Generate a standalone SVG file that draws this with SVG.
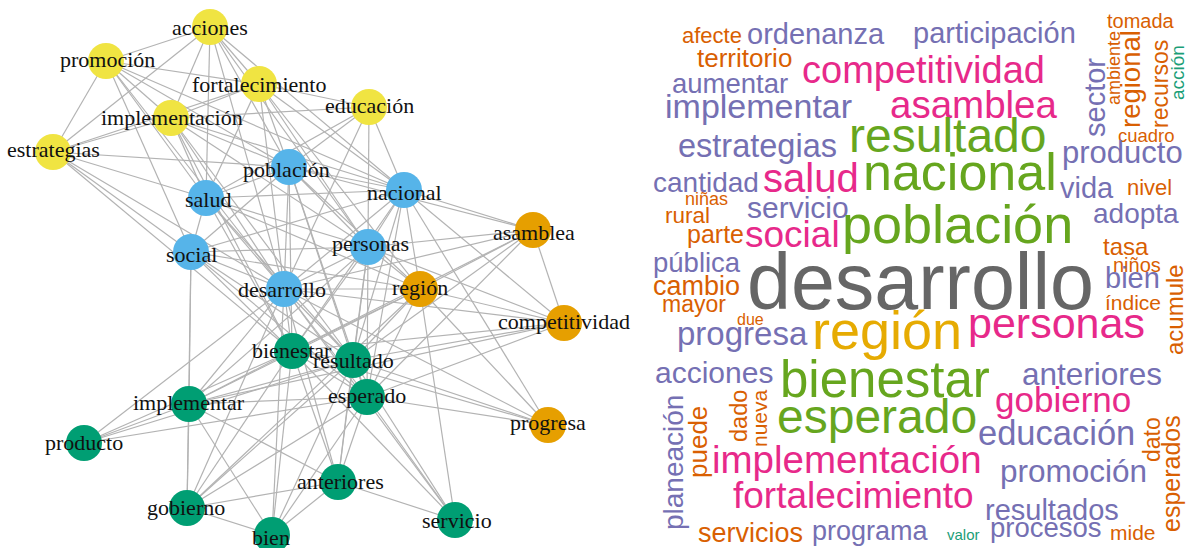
<svg xmlns="http://www.w3.org/2000/svg" width="1189" height="548" viewBox="0 0 1189 548">
<style>
.e{stroke:#b3b3b3;stroke-width:1.2;fill:none}
.n{stroke:none}
.Y{fill:#F0E442}.B{fill:#56B4E9}.G{fill:#009E73}.O{fill:#E69F00}
.l{font-family:"Liberation Serif","Times New Roman",serif;font-size:22px;fill:#111}
.w{font-family:"Liberation Sans",Arial,sans-serif}
.o{fill:#D95F02}.p{fill:#7570B3}.k{fill:#E7298A}.g{fill:#66A61E}.y{fill:#E6AB02}.t{fill:#1B9E77}.d{fill:#666666}
</style>
<rect width="1189" height="548" fill="#fff"/>
<g id="connectors">
<line class="e" x1="210" y1="27" x2="106" y2="61"/>
<line class="e" x1="210" y1="27" x2="259" y2="84"/>
<line class="e" x1="210" y1="27" x2="171" y2="118"/>
<line class="e" x1="210" y1="27" x2="53" y2="152"/>
<line class="e" x1="210" y1="27" x2="206" y2="198"/>
<line class="e" x1="210" y1="27" x2="289" y2="167"/>
<line class="e" x1="210" y1="27" x2="404" y2="190"/>
<line class="e" x1="210" y1="27" x2="284" y2="289"/>
<line class="e" x1="210" y1="27" x2="368" y2="247"/>
<line class="e" x1="106" y1="61" x2="259" y2="84"/>
<line class="e" x1="106" y1="61" x2="171" y2="118"/>
<line class="e" x1="106" y1="61" x2="53" y2="152"/>
<line class="e" x1="106" y1="61" x2="206" y2="198"/>
<line class="e" x1="106" y1="61" x2="289" y2="167"/>
<line class="e" x1="106" y1="61" x2="284" y2="289"/>
<line class="e" x1="106" y1="61" x2="191" y2="252"/>
<line class="e" x1="106" y1="61" x2="404" y2="190"/>
<line class="e" x1="259" y1="84" x2="171" y2="118"/>
<line class="e" x1="259" y1="84" x2="53" y2="152"/>
<line class="e" x1="259" y1="84" x2="369" y2="107"/>
<line class="e" x1="259" y1="84" x2="206" y2="198"/>
<line class="e" x1="259" y1="84" x2="289" y2="167"/>
<line class="e" x1="259" y1="84" x2="404" y2="190"/>
<line class="e" x1="259" y1="84" x2="284" y2="289"/>
<line class="e" x1="259" y1="84" x2="368" y2="247"/>
<line class="e" x1="259" y1="84" x2="420" y2="289"/>
<line class="e" x1="171" y1="118" x2="53" y2="152"/>
<line class="e" x1="171" y1="118" x2="369" y2="107"/>
<line class="e" x1="171" y1="118" x2="206" y2="198"/>
<line class="e" x1="171" y1="118" x2="289" y2="167"/>
<line class="e" x1="171" y1="118" x2="404" y2="190"/>
<line class="e" x1="171" y1="118" x2="284" y2="289"/>
<line class="e" x1="171" y1="118" x2="368" y2="247"/>
<line class="e" x1="171" y1="118" x2="292" y2="351"/>
<line class="e" x1="171" y1="118" x2="353" y2="360"/>
<line class="e" x1="369" y1="107" x2="289" y2="167"/>
<line class="e" x1="369" y1="107" x2="404" y2="190"/>
<line class="e" x1="369" y1="107" x2="206" y2="198"/>
<line class="e" x1="369" y1="107" x2="368" y2="247"/>
<line class="e" x1="369" y1="107" x2="284" y2="289"/>
<line class="e" x1="53" y1="152" x2="289" y2="167"/>
<line class="e" x1="53" y1="152" x2="191" y2="252"/>
<line class="e" x1="53" y1="152" x2="284" y2="289"/>
<line class="e" x1="53" y1="152" x2="292" y2="351"/>
<line class="e" x1="53" y1="152" x2="206" y2="198"/>
<line class="e" x1="289" y1="167" x2="206" y2="198"/>
<line class="e" x1="289" y1="167" x2="404" y2="190"/>
<line class="e" x1="289" y1="167" x2="191" y2="252"/>
<line class="e" x1="289" y1="167" x2="368" y2="247"/>
<line class="e" x1="289" y1="167" x2="284" y2="289"/>
<line class="e" x1="289" y1="167" x2="292" y2="351"/>
<line class="e" x1="289" y1="167" x2="353" y2="360"/>
<line class="e" x1="289" y1="167" x2="367" y2="397"/>
<line class="e" x1="289" y1="167" x2="533" y2="230"/>
<line class="e" x1="289" y1="167" x2="420" y2="289"/>
<line class="e" x1="206" y1="198" x2="191" y2="252"/>
<line class="e" x1="206" y1="198" x2="404" y2="190"/>
<line class="e" x1="206" y1="198" x2="284" y2="289"/>
<line class="e" x1="206" y1="198" x2="368" y2="247"/>
<line class="e" x1="206" y1="198" x2="292" y2="351"/>
<line class="e" x1="206" y1="198" x2="353" y2="360"/>
<line class="e" x1="206" y1="198" x2="420" y2="289"/>
<line class="e" x1="404" y1="190" x2="368" y2="247"/>
<line class="e" x1="404" y1="190" x2="533" y2="230"/>
<line class="e" x1="404" y1="190" x2="420" y2="289"/>
<line class="e" x1="404" y1="190" x2="284" y2="289"/>
<line class="e" x1="404" y1="190" x2="564" y2="323"/>
<line class="e" x1="404" y1="190" x2="292" y2="351"/>
<line class="e" x1="404" y1="190" x2="353" y2="360"/>
<line class="e" x1="404" y1="190" x2="367" y2="397"/>
<line class="e" x1="404" y1="190" x2="191" y2="252"/>
<line class="e" x1="404" y1="190" x2="548" y2="425"/>
<line class="e" x1="191" y1="252" x2="284" y2="289"/>
<line class="e" x1="191" y1="252" x2="368" y2="247"/>
<line class="e" x1="191" y1="252" x2="292" y2="351"/>
<line class="e" x1="191" y1="252" x2="353" y2="360"/>
<line class="e" x1="191" y1="252" x2="189" y2="404"/>
<line class="e" x1="191" y1="252" x2="367" y2="397"/>
<line class="e" x1="191" y1="252" x2="187" y2="508"/>
<line class="e" x1="191" y1="252" x2="420" y2="289"/>
<line class="e" x1="368" y1="247" x2="284" y2="289"/>
<line class="e" x1="368" y1="247" x2="420" y2="289"/>
<line class="e" x1="368" y1="247" x2="533" y2="230"/>
<line class="e" x1="368" y1="247" x2="292" y2="351"/>
<line class="e" x1="368" y1="247" x2="353" y2="360"/>
<line class="e" x1="368" y1="247" x2="367" y2="397"/>
<line class="e" x1="368" y1="247" x2="564" y2="323"/>
<line class="e" x1="368" y1="247" x2="189" y2="404"/>
<line class="e" x1="368" y1="247" x2="338" y2="482"/>
<line class="e" x1="284" y1="289" x2="420" y2="289"/>
<line class="e" x1="284" y1="289" x2="292" y2="351"/>
<line class="e" x1="284" y1="289" x2="353" y2="360"/>
<line class="e" x1="284" y1="289" x2="367" y2="397"/>
<line class="e" x1="284" y1="289" x2="189" y2="404"/>
<line class="e" x1="284" y1="289" x2="564" y2="323"/>
<line class="e" x1="284" y1="289" x2="548" y2="425"/>
<line class="e" x1="284" y1="289" x2="338" y2="482"/>
<line class="e" x1="284" y1="289" x2="272" y2="535"/>
<line class="e" x1="284" y1="289" x2="187" y2="508"/>
<line class="e" x1="284" y1="289" x2="533" y2="230"/>
<line class="e" x1="284" y1="289" x2="455" y2="520"/>
<line class="e" x1="284" y1="289" x2="84" y2="443"/>
<line class="e" x1="420" y1="289" x2="533" y2="230"/>
<line class="e" x1="420" y1="289" x2="564" y2="323"/>
<line class="e" x1="420" y1="289" x2="292" y2="351"/>
<line class="e" x1="420" y1="289" x2="353" y2="360"/>
<line class="e" x1="420" y1="289" x2="367" y2="397"/>
<line class="e" x1="420" y1="289" x2="548" y2="425"/>
<line class="e" x1="420" y1="289" x2="189" y2="404"/>
<line class="e" x1="420" y1="289" x2="455" y2="520"/>
<line class="e" x1="420" y1="289" x2="187" y2="508"/>
<line class="e" x1="533" y1="230" x2="564" y2="323"/>
<line class="e" x1="533" y1="230" x2="292" y2="351"/>
<line class="e" x1="533" y1="230" x2="353" y2="360"/>
<line class="e" x1="533" y1="230" x2="367" y2="397"/>
<line class="e" x1="564" y1="323" x2="292" y2="351"/>
<line class="e" x1="564" y1="323" x2="353" y2="360"/>
<line class="e" x1="564" y1="323" x2="367" y2="397"/>
<line class="e" x1="564" y1="323" x2="189" y2="404"/>
<line class="e" x1="292" y1="351" x2="353" y2="360"/>
<line class="e" x1="292" y1="351" x2="367" y2="397"/>
<line class="e" x1="292" y1="351" x2="189" y2="404"/>
<line class="e" x1="292" y1="351" x2="84" y2="443"/>
<line class="e" x1="292" y1="351" x2="187" y2="508"/>
<line class="e" x1="292" y1="351" x2="272" y2="535"/>
<line class="e" x1="292" y1="351" x2="338" y2="482"/>
<line class="e" x1="292" y1="351" x2="548" y2="425"/>
<line class="e" x1="292" y1="351" x2="455" y2="520"/>
<line class="e" x1="353" y1="360" x2="367" y2="397"/>
<line class="e" x1="353" y1="360" x2="189" y2="404"/>
<line class="e" x1="353" y1="360" x2="84" y2="443"/>
<line class="e" x1="353" y1="360" x2="187" y2="508"/>
<line class="e" x1="353" y1="360" x2="272" y2="535"/>
<line class="e" x1="353" y1="360" x2="338" y2="482"/>
<line class="e" x1="353" y1="360" x2="548" y2="425"/>
<line class="e" x1="353" y1="360" x2="455" y2="520"/>
<line class="e" x1="367" y1="397" x2="189" y2="404"/>
<line class="e" x1="367" y1="397" x2="84" y2="443"/>
<line class="e" x1="367" y1="397" x2="187" y2="508"/>
<line class="e" x1="367" y1="397" x2="272" y2="535"/>
<line class="e" x1="367" y1="397" x2="338" y2="482"/>
<line class="e" x1="367" y1="397" x2="455" y2="520"/>
<line class="e" x1="367" y1="397" x2="548" y2="425"/>
<line class="e" x1="189" y1="404" x2="84" y2="443"/>
<line class="e" x1="189" y1="404" x2="187" y2="508"/>
<line class="e" x1="189" y1="404" x2="272" y2="535"/>
<line class="e" x1="189" y1="404" x2="338" y2="482"/>
<line class="e" x1="187" y1="508" x2="272" y2="535"/>
<line class="e" x1="187" y1="508" x2="338" y2="482"/>
<line class="e" x1="272" y1="535" x2="338" y2="482"/>
<line class="e" x1="338" y1="482" x2="455" y2="520"/>
</g>
<g id="acciones"><circle class="n Y" cx="210" cy="27" r="18"/><text class="l" x="172" y="35">acciones</text></g>
<g id="promocion"><circle class="n Y" cx="106" cy="61" r="18"/><text class="l" x="60" y="67">promoción</text></g>
<g id="fortalecimiento"><circle class="n Y" cx="259" cy="84" r="18"/><text class="l" x="192" y="92">fortalecimiento</text></g>
<g id="implementacion"><circle class="n Y" cx="171" cy="118" r="18"/><text class="l" x="101" y="125">implementación</text></g>
<g id="educacion"><circle class="n Y" cx="369" cy="107" r="18"/><text class="l" x="325" y="113">educación</text></g>
<g id="estrategias"><circle class="n Y" cx="53" cy="152" r="18"/><text class="l" x="7" y="157">estrategias</text></g>
<g id="poblacion"><circle class="n B" cx="289" cy="167" r="18"/><text class="l" x="243" y="177">población</text></g>
<g id="salud"><circle class="n B" cx="206" cy="198" r="18"/><text class="l" x="185" y="207">salud</text></g>
<g id="nacional"><circle class="n B" cx="404" cy="190" r="18"/><text class="l" x="367" y="200">nacional</text></g>
<g id="social"><circle class="n B" cx="191" cy="252" r="18"/><text class="l" x="166" y="262">social</text></g>
<g id="personas"><circle class="n B" cx="368" cy="247" r="18"/><text class="l" x="332" y="251">personas</text></g>
<g id="desarrollo"><circle class="n B" cx="284" cy="289" r="18"/><text class="l" x="238" y="297">desarrollo</text></g>
<g id="asamblea"><circle class="n O" cx="533" cy="230" r="18"/><text class="l" x="493" y="240">asamblea</text></g>
<g id="region"><circle class="n O" cx="420" cy="289" r="18"/><text class="l" x="392" y="295">región</text></g>
<g id="competitividad"><circle class="n O" cx="564" cy="323" r="18"/><text class="l" x="498" y="329">competitividad</text></g>
<g id="progresa"><circle class="n O" cx="548" cy="425" r="18"/><text class="l" x="510" y="430">progresa</text></g>
<g id="bienestar"><circle class="n G" cx="292" cy="351" r="18"/><text class="l" x="252" y="358">bienestar</text></g>
<g id="resultado"><circle class="n G" cx="353" cy="360" r="18"/><text class="l" x="313" y="368">resultado</text></g>
<g id="implementar"><circle class="n G" cx="189" cy="404" r="18"/><text class="l" x="133" y="410">implementar</text></g>
<g id="esperado"><circle class="n G" cx="367" cy="397" r="18"/><text class="l" x="328" y="403">esperado</text></g>
<g id="producto"><circle class="n G" cx="84" cy="443" r="18"/><text class="l" x="45" y="450">producto</text></g>
<g id="anteriores"><circle class="n G" cx="338" cy="482" r="18"/><text class="l" x="297" y="489">anteriores</text></g>
<g id="gobierno"><circle class="n G" cx="187" cy="508" r="18"/><text class="l" x="147" y="515">gobierno</text></g>
<g id="bien"><circle class="n G" cx="272" cy="535" r="18"/><text class="l" x="252" y="545">bien</text></g>
<g id="servicio"><circle class="n G" cx="455" cy="520" r="18"/><text class="l" x="422" y="528">servicio</text></g>
<g id="wordcloud" class="w">
<text class="o" x="682" y="43" font-size="22">afecte</text>
<text class="p" x="747" y="44" font-size="29">ordenanza</text>
<text class="o" x="697" y="67" font-size="26">territorio</text>
<text class="p" x="913" y="43" font-size="29">participación</text>
<text class="o" x="1107" y="28" font-size="20">tomada</text>
<text class="p" x="672" y="93" font-size="27.5">aumentar</text>
<text class="k" x="802" y="83" font-size="38">competitividad</text>
<text class="p" x="665" y="118" font-size="34">implementar</text>
<text class="k" x="890" y="118" font-size="38.5">asamblea</text>
<text class="p" x="678" y="157" font-size="32.5">estrategias</text>
<text class="g" x="849" y="152" font-size="48">resultado</text>
<text class="o" x="1118" y="142" font-size="18.5">cuadro</text>
<text class="p" x="1062" y="163" font-size="31">producto</text>
<text class="p" x="653" y="192" font-size="28">cantidad</text>
<text class="k" x="763" y="192" font-size="40">salud</text>
<text class="g" x="863" y="190" font-size="52">nacional</text>
<text class="p" x="1060" y="198" font-size="29">vida</text>
<text class="o" x="1127" y="195" font-size="22">nivel</text>
<text class="o" x="685" y="205" font-size="18">niñas</text>
<text class="o" x="665" y="223" font-size="22.5">rural</text>
<text class="p" x="747" y="218" font-size="30">servicio</text>
<text class="p" x="1093" y="223" font-size="28">adopta</text>
<text class="o" x="687" y="243" font-size="25">parte</text>
<text class="k" x="745" y="247" font-size="37">social</text>
<text class="g" x="842" y="243" font-size="54">población</text>
<text class="o" x="1103" y="255" font-size="24">tasa</text>
<text class="p" x="653" y="272" font-size="27.5">pública</text>
<text class="o" x="1113" y="272" font-size="20">niños</text>
<text class="d" x="747" y="309" font-size="79">desarrollo</text>
<text class="p" x="1105" y="288" font-size="29">bien</text>
<text class="o" x="653" y="295" font-size="27">cambio</text>
<text class="o" x="1105" y="310" font-size="21">índice</text>
<text class="o" x="662" y="312" font-size="23">mayor</text>
<text class="o" x="737" y="325" font-size="16">due</text>
<text class="p" x="677" y="345" font-size="33">progresa</text>
<text class="y" x="812" y="349" font-size="54">región</text>
<text class="k" x="968" y="338" font-size="43">personas</text>
<text class="p" x="655" y="383" font-size="30">acciones</text>
<text class="g" x="780" y="397" font-size="51">bienestar</text>
<text class="p" x="1022" y="385" font-size="31.5">anteriores</text>
<text class="k" x="995" y="412" font-size="35">gobierno</text>
<text class="g" x="777" y="433" font-size="48">esperado</text>
<text class="p" x="978" y="445" font-size="34.5">educación</text>
<text class="k" x="712" y="473" font-size="38.5">implementación</text>
<text class="p" x="1000" y="482" font-size="31.5">promoción</text>
<text class="k" x="733" y="508" font-size="37">fortalecimiento</text>
<text class="p" x="985" y="520" font-size="29">resultados</text>
<text class="o" x="698" y="542" font-size="27">servicios</text>
<text class="p" x="812" y="540" font-size="27">programa</text>
<text class="t" x="947" y="540" font-size="15">valor</text>
<text class="p" x="990" y="537" font-size="27.5">procesos</text>
<text class="o" x="1110" y="540" font-size="21">mide</text>
<text class="p" font-size="29" transform="translate(1105,137) rotate(-90)">sector</text>
<text class="o" font-size="18" transform="translate(1120,105) rotate(-90)">ambiente</text>
<text class="o" font-size="27.5" transform="translate(1140,128) rotate(-90)">regional</text>
<text class="o" font-size="23" transform="translate(1168,128) rotate(-90)">recursos</text>
<text class="t" font-size="19" transform="translate(1184,100) rotate(-90)">acción</text>
<text class="o" font-size="24" transform="translate(1183,355) rotate(-90)">acumule</text>
<text class="p" font-size="28" transform="translate(683,530) rotate(-90)">planeación</text>
<text class="o" font-size="26" transform="translate(707,478) rotate(-90)">puede</text>
<text class="o" font-size="23.5" transform="translate(747,442) rotate(-90)">dado</text>
<text class="o" font-size="21" transform="translate(767,447) rotate(-90)">nueva</text>
<text class="o" font-size="23" transform="translate(1160,462) rotate(-90)">dato</text>
<text class="o" font-size="25" transform="translate(1180,532) rotate(-90)">esperados</text>
</g>
</svg>
